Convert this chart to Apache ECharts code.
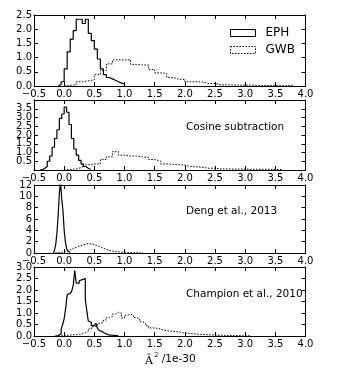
<!DOCTYPE html>
<html>
<head>
<meta charset="utf-8">
<script src="https://cdn.jsdelivr.net/npm/echarts@6/dist/echarts.min.js"></script>
<style>
  html, body { margin: 0; padding: 0; background: #fff; }
  #chart { width: 341px; height: 377px; }
</style>
</head>
<body>
<div id="chart"></div>
<script>
// panel annotations and y ranges
const panelNames = ['', 'Cosine subtraction', 'Deng et al., 2013', 'Champion et al., 2010'];
const yMax = [2.5, 4.0, 12, 3.0];
const yStep = [0.5, 0.5, 2, 0.5];

// EPH histograms (bin start, bin width, heights)
const ephStart = [-0.1, -0.4, -0.18, -0.15];
const ephWidth = [0.05, 0.04, 0.02, 0.025];
const eph1 = [0.05, 0.15, 0.6, 1.2, 1.65, 1.95, 2.35, 2.35, 2.2, 2.35, 1.85, 1.6, 1.3, 0.95, 0.6, 0.4, 0.3, 0.25, 0.2, 0.15, 0.1, 0.08];
const eph2 = [0.02, 0.1, 0.2, 0.5, 0.8, 1.3, 1.8, 2.3, 2.95, 3.2, 3.6, 3.3, 2.6, 1.8, 1.2, 0.85, 0.55, 0.35, 0.2, 0.1, 0.03];
const eph3 = [0.1, 0.5, 1.5, 3.5, 6.5, 10.5, 12.5, 9.5, 7.5, 4.0, 2.0, 0.8, 0.3, 0.1];
const eph4 = [0.02, 0.02, 0.05, 0.1, 0.3, 0.5, 0.75, 1.2, 1.8, 1.85, 1.9, 1.95, 2.2, 2.85, 2.3, 2.3, 2.4, 2.45, 2.45, 2.5,
              1.6, 1.1, 0.65, 0.6, 0.45, 0.45, 0.4, 0.55, 0.35, 0.25, 0.2, 0.18, 0.12, 0.1, 0.06, 0.05, 0.04, 0.03, 0.03, 0.02, 0.02, 0.01];

// GWB histograms
const gwbStart = [0.0, 0.0, -0.15, -0.1];
const gwbWidth = [0.1, 0.1, 0.05, 0.05];
const gwb1 = [0.02, 0.04, 0.15, 0.18, 0.22, 0.4, 0.55, 0.78, 0.92, 0.92, 0.92, 0.76, 0.74, 0.74, 0.58, 0.46, 0.45, 0.3, 0.24, 0.23,
              0.15, 0.15, 0.14, 0.09, 0.09, 0.04, 0.04, 0.04, 0.03, 0.03, 0.03, 0.02, 0.02, 0.02, 0.02, 0.02, 0.01, 0.01];
const gwb2 = [0.03, 0.06, 0.15, 0.3, 0.35, 0.35, 0.6, 0.75, 1.05, 0.85, 0.8, 0.8, 0.75, 0.72, 0.6, 0.5, 0.35, 0.32, 0.3, 0.28,
              0.2, 0.18, 0.15, 0.1, 0.1, 0.06, 0.06, 0.05, 0.05, 0.05, 0.04, 0.04, 0.04, 0.04, 0.03, 0.03];
const gwb3 = [0.05, 0.1, 0.2, 0.35, 0.55, 0.8, 1.0, 1.2, 1.35, 1.55, 1.65, 1.6, 1.45, 1.3, 1.1, 0.85, 0.65, 0.45, 0.35, 0.28,
              0.2, 0.15, 0.12, 0.1, 0.08, 0.06, 0.04, 0.03, 0.02];
const gwb4 = [0.01, 0.02, 0.03, 0.04, 0.05, 0.06, 0.08, 0.1, 0.15, 0.2, 0.3, 0.4, 0.45, 0.55, 0.6, 0.7, 0.8, 0.85, 0.95, 1.03,
              1.0, 0.78, 0.9, 0.95, 0.9, 0.8, 0.75, 0.62, 0.55, 0.45, 0.35, 0.35, 0.33, 0.3, 0.25, 0.23, 0.22, 0.2, 0.19, 0.18,
              0.15, 0.12, 0.12, 0.1, 0.1, 0.08, 0.07, 0.07, 0.06, 0.05, 0.05, 0.04, 0.03, 0.03, 0.03, 0.03, 0.02, 0.02, 0.02, 0.02,
              0.01, 0.01, 0.01, 0.01];

const ephData = [eph1, eph2, eph3, eph4];
const gwbData = [gwb1, gwb2, gwb3, gwb4];

// panel boxes (px)
const gridTop = [15, 100, 185, 267];
const gridHeight = [71, 70, 68, 69];

const font = 'DejaVu Sans';

// histogram outline: step from each bin edge, closed to zero at both ends
function stepPoints(start, width, heights) {
    let pts = [[start, 0]];
    heights.forEach((h, i) => pts.push([+(start + i * width).toFixed(4), h]));
    pts.push([+(start + heights.length * width).toFixed(4), 0]);
    return pts;
}

function fmt(v, dec) {
    return v.toFixed(dec).replace('-', '\u2212');
}

let grids = [], xAxes = [], yAxes = [], series = [], graphics = [];

for (let i = 0; i < 4; i++) {
    grids.push({ left: 34, right: 35.5, top: gridTop[i], height: gridHeight[i] });

    const tick = { show: true, inside: true, length: 4, lineStyle: { color: '#000', width: 1 } };
    const line = { show: true, onZero: false, lineStyle: { color: '#000', width: 1 } };

    xAxes.push({
        gridIndex: i, type: 'value', position: 'bottom', min: -0.5, max: 4.0, interval: 0.5,
        axisLine: line, axisTick: tick, splitLine: { show: false },
        axisLabel: { color: '#000', fontFamily: font, fontSize: 10, margin: 3, formatter: v => fmt(v, 1) }
    });
    xAxes.push({
        gridIndex: i, type: 'value', position: 'top', min: -0.5, max: 4.0, interval: 0.5,
        axisLine: line, axisTick: tick, splitLine: { show: false }, axisLabel: { show: false }
    });
    const dec = yStep[i] >= 1 ? 0 : 1;
    yAxes.push({
        gridIndex: i, type: 'value', position: 'left', min: 0, max: yMax[i], interval: yStep[i],
        axisLine: line, axisTick: tick, splitLine: { show: false },
        axisLabel: { color: '#000', fontFamily: font, fontSize: 10, margin: 2, lineHeight: 10, formatter: v => fmt(v, dec) }
    });
    yAxes.push({
        gridIndex: i, type: 'value', position: 'right', min: 0, max: yMax[i], interval: yStep[i],
        axisLine: line, axisTick: tick, splitLine: { show: false }, axisLabel: { show: false }
    });

    series.push({
        name: 'EPH', type: 'line', xAxisIndex: 2 * i, yAxisIndex: 2 * i, step: 'end',
        symbol: 'none', clip: true, lineStyle: { color: '#000', width: 1.2 },
        data: stepPoints(ephStart[i], ephWidth[i], ephData[i])
    });
    series.push({
        name: 'GWB', type: 'line', xAxisIndex: 2 * i, yAxisIndex: 2 * i, step: 'end',
        symbol: 'none', clip: true, lineStyle: { color: '#000', width: 1, type: [1.5, 1.5] },
        data: stepPoints(gwbStart[i], gwbWidth[i], gwbData[i])
    });

    if (panelNames[i]) {
        graphics.push({
            type: 'text', left: 186, top: gridTop[i] + [0, 22, 21, 22][i],
            style: { text: panelNames[i], fill: '#000', font: '10.5px "DejaVu Sans"' }
        });
    }
}

graphics.push({
    type: 'text', left: 145, top: 352,
    style: {
        text: '{a|Â}{s|2}{b| /1e-30}',
        rich: {
            a: { fontFamily: 'DejaVu Serif', fontSize: 11, fill: '#000', verticalAlign: 'bottom' },
            s: { fontFamily: 'DejaVu Serif', fontSize: 7, fill: '#000', padding: [0, 0, 8, 1] },
            b: { fontFamily: font, fontSize: 10.5, fill: '#000' }
        }
    }
});

const chart = echarts.init(document.getElementById('chart'), null, { renderer: 'canvas' });
chart.setOption({
    animation: false,
    backgroundColor: '#fff',
    grid: grids,
    xAxis: xAxes,
    yAxis: yAxes,
    legend: {
        orient: 'vertical', left: 230, top: 27, padding: 0, itemWidth: 25, itemHeight: 7, itemGap: 5,
        textStyle: { fontFamily: font, fontSize: 12, color: '#000', padding: [0, 0, 0, 5] },
        data: [
            { name: 'EPH', icon: 'rect', itemStyle: { color: 'transparent', borderColor: '#000', borderWidth: 1 } },
            { name: 'GWB', icon: 'rect', itemStyle: { color: 'transparent', borderColor: '#000', borderWidth: 1, borderType: [1.5, 1.5] } }
        ]
    },
    series: series,
    graphic: graphics
});
</script>
</body>
</html>
